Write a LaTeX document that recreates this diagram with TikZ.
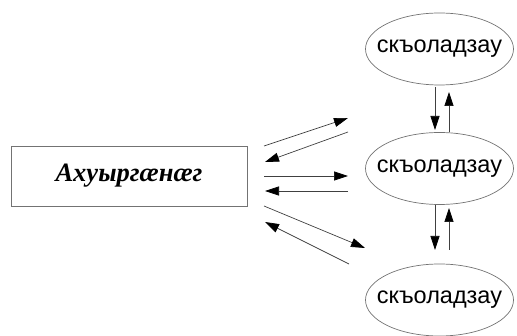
\documentclass[tikz,border=0pt]{standalone}
\usepackage{fontspec}
\setmainfont{Liberation Serif}
\newfontfamily\arialfont{Liberation Sans}
\usetikzlibrary{arrows.meta,shapes.geometric}
\newcommand{\zw}[1]{\makebox[0pt]{\raisebox{-2.5pt}{#1}}}
\begin{document}
\begin{tikzpicture}[x=1pt,y=-1pt,
  ell/.style={draw=black!55,line width=0.7pt,ellipse,minimum width=148pt,minimum height=72pt,inner sep=0pt,font=\arialfont\fontsize{23.5}{28}\selectfont},
  boxnode/.style={draw=black!55,line width=0.7pt,rectangle,minimum width=236pt,minimum height=60pt,inner sep=0pt,font=\bfseries\itshape\fontsize{26.5}{30}\selectfont},
  arr/.style={draw=black!75,line width=0.7pt,-{Triangle[length=14pt,width=9pt,color=black]}}]
\useasboundingbox (0,0) rectangle (517,336);
\node[boxnode] (t) at (129,176) {Ахуыргæнæг};
\node[ell] (s1) at (439.5,49) {\zw{скъоладзау}};
\node[ell] (s2) at (439.5,168.5) {\zw{скъоладзау}};
\node[ell] (s3) at (439.5,300) {\zw{скъоладзау}};
% diagonal arrows
\coordinate (a1s) at (264,146); \coordinate (a1e) at (348,118);
\coordinate (a2s) at (348,132); \coordinate (a2e) at (265,162);
\coordinate (a3s) at (264,176); \coordinate (a3e) at (348,176);
\coordinate (a4s) at (348,191); \coordinate (a4e) at (265,191);
\coordinate (a5s) at (264,206); \coordinate (a5e) at (365,248);
\coordinate (a6s) at (349,264); \coordinate (a6e) at (265,222);
\draw[arr] (a1s) -- (a1e);
\draw[arr] (a2s) -- (a2e);
\draw[arr] (a3s) -- (a3e);
\draw[arr] (a4s) -- (a4e);
\draw[arr] (a5s) -- (a5e);
\draw[arr] (a6s) -- (a6e);
% vertical arrows
\coordinate (v1s) at (435,87);  \coordinate (v1e) at (435,130);
\coordinate (v2s) at (449,132); \coordinate (v2e) at (449,92);
\coordinate (v3s) at (435,205); \coordinate (v3e) at (435,250);
\coordinate (v4s) at (449,250); \coordinate (v4e) at (449,208);
\draw[arr] (v1s) -- (v1e);
\draw[arr] (v2s) -- (v2e);
\draw[arr] (v3s) -- (v3e);
\draw[arr] (v4s) -- (v4e);
\end{tikzpicture}
\end{document}
